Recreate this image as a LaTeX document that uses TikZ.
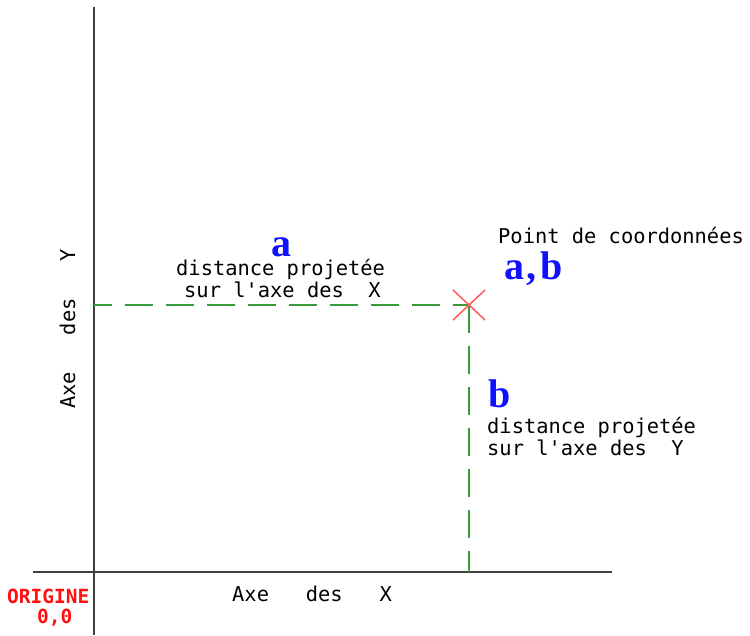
\documentclass[tikz,border=0pt]{standalone}
\usepackage{fontspec}
\newfontfamily\cadfont{DejaVu Sans Mono}
\newfontfamily\lettfont{Liberation Serif}
\definecolor{axisgray}{HTML}{404040}
\definecolor{dashgreen}{HTML}{3A9A3A}
\definecolor{crossred}{HTML}{FF5A5A}
\definecolor{lblue}{HTML}{1010FF}
\definecolor{ored}{HTML}{FF1010}
\tikzset{
  axisline/.style={draw=axisgray, line width=2pt},
  projline/.style={draw=dashgreen, line width=2pt, dash pattern=on 28pt off 13pt},
  crossline/.style={draw=crossred, line width=1.5pt},
  cadtext/.style={inner sep=0pt, anchor=base west, text=black, font=\cadfont\fontsize{20.4}{24}\selectfont},
  letter/.style={inner sep=0pt, anchor=base west, text=lblue, font=\lettfont\bfseries\fontsize{40}{44}\selectfont},
  origtext/.style={inner sep=0pt, anchor=base west, text=ored, font=\cadfont\bfseries\fontsize{19.5}{22}\selectfont}
}
\begin{document}
\begin{tikzpicture}[x=1pt,y=-1pt]
\useasboundingbox (0,0) rectangle (750,635);
% axes
\coordinate (ytop) at (94,7);
\coordinate (ybot) at (94,635);
\coordinate (xleft) at (33,572);
\coordinate (xright) at (612,572);
\coordinate (P) at (469,305);
\coordinate (Py) at (94,305);
\coordinate (Px) at (469,572);
\draw[axisline] (ytop) -- (ybot);
\draw[axisline] (xleft) -- (xright);
% projections
\draw[projline, dash phase=10pt] (Py) -- (P);
\draw[projline] (P) -- (Px);
% cross
\coordinate (c1) at (453,290);
\coordinate (c2) at (485,320);
\coordinate (c3) at (453,320);
\coordinate (c4) at (485,290);
\draw[crossline] (c1) -- (c2);
\draw[crossline] (c3) -- (c4);
% texts
\node[cadtext] (pt) at (498,243) {Point de coordonnées};
\node[letter] (ab) at (504,279) {a\kern2pt,\kern4pt b};
\node[letter] (la) at (271,256) {a};
\node[cadtext] (da1) at (176,275) {distance projetée};
\node[cadtext] (da2) at (184,297) {sur l'axe des~~X};
\node[letter] (lb) at (488,407) {b};
\node[cadtext] (db1) at (487,433) {distance projetée};
\node[cadtext] (db2) at (487,455) {sur l'axe des~~Y};
\node[cadtext] (ax) at (232,601) {Axe~~~des~~~X};
\node[cadtext, rotate=90] (ay) at (75,409) {Axe~~~des~~~Y};
\node[origtext] (orig) at (7,603) {ORIGINE};
\node[origtext] (zero) at (37,623) {0,0};
\end{tikzpicture}
\end{document}
